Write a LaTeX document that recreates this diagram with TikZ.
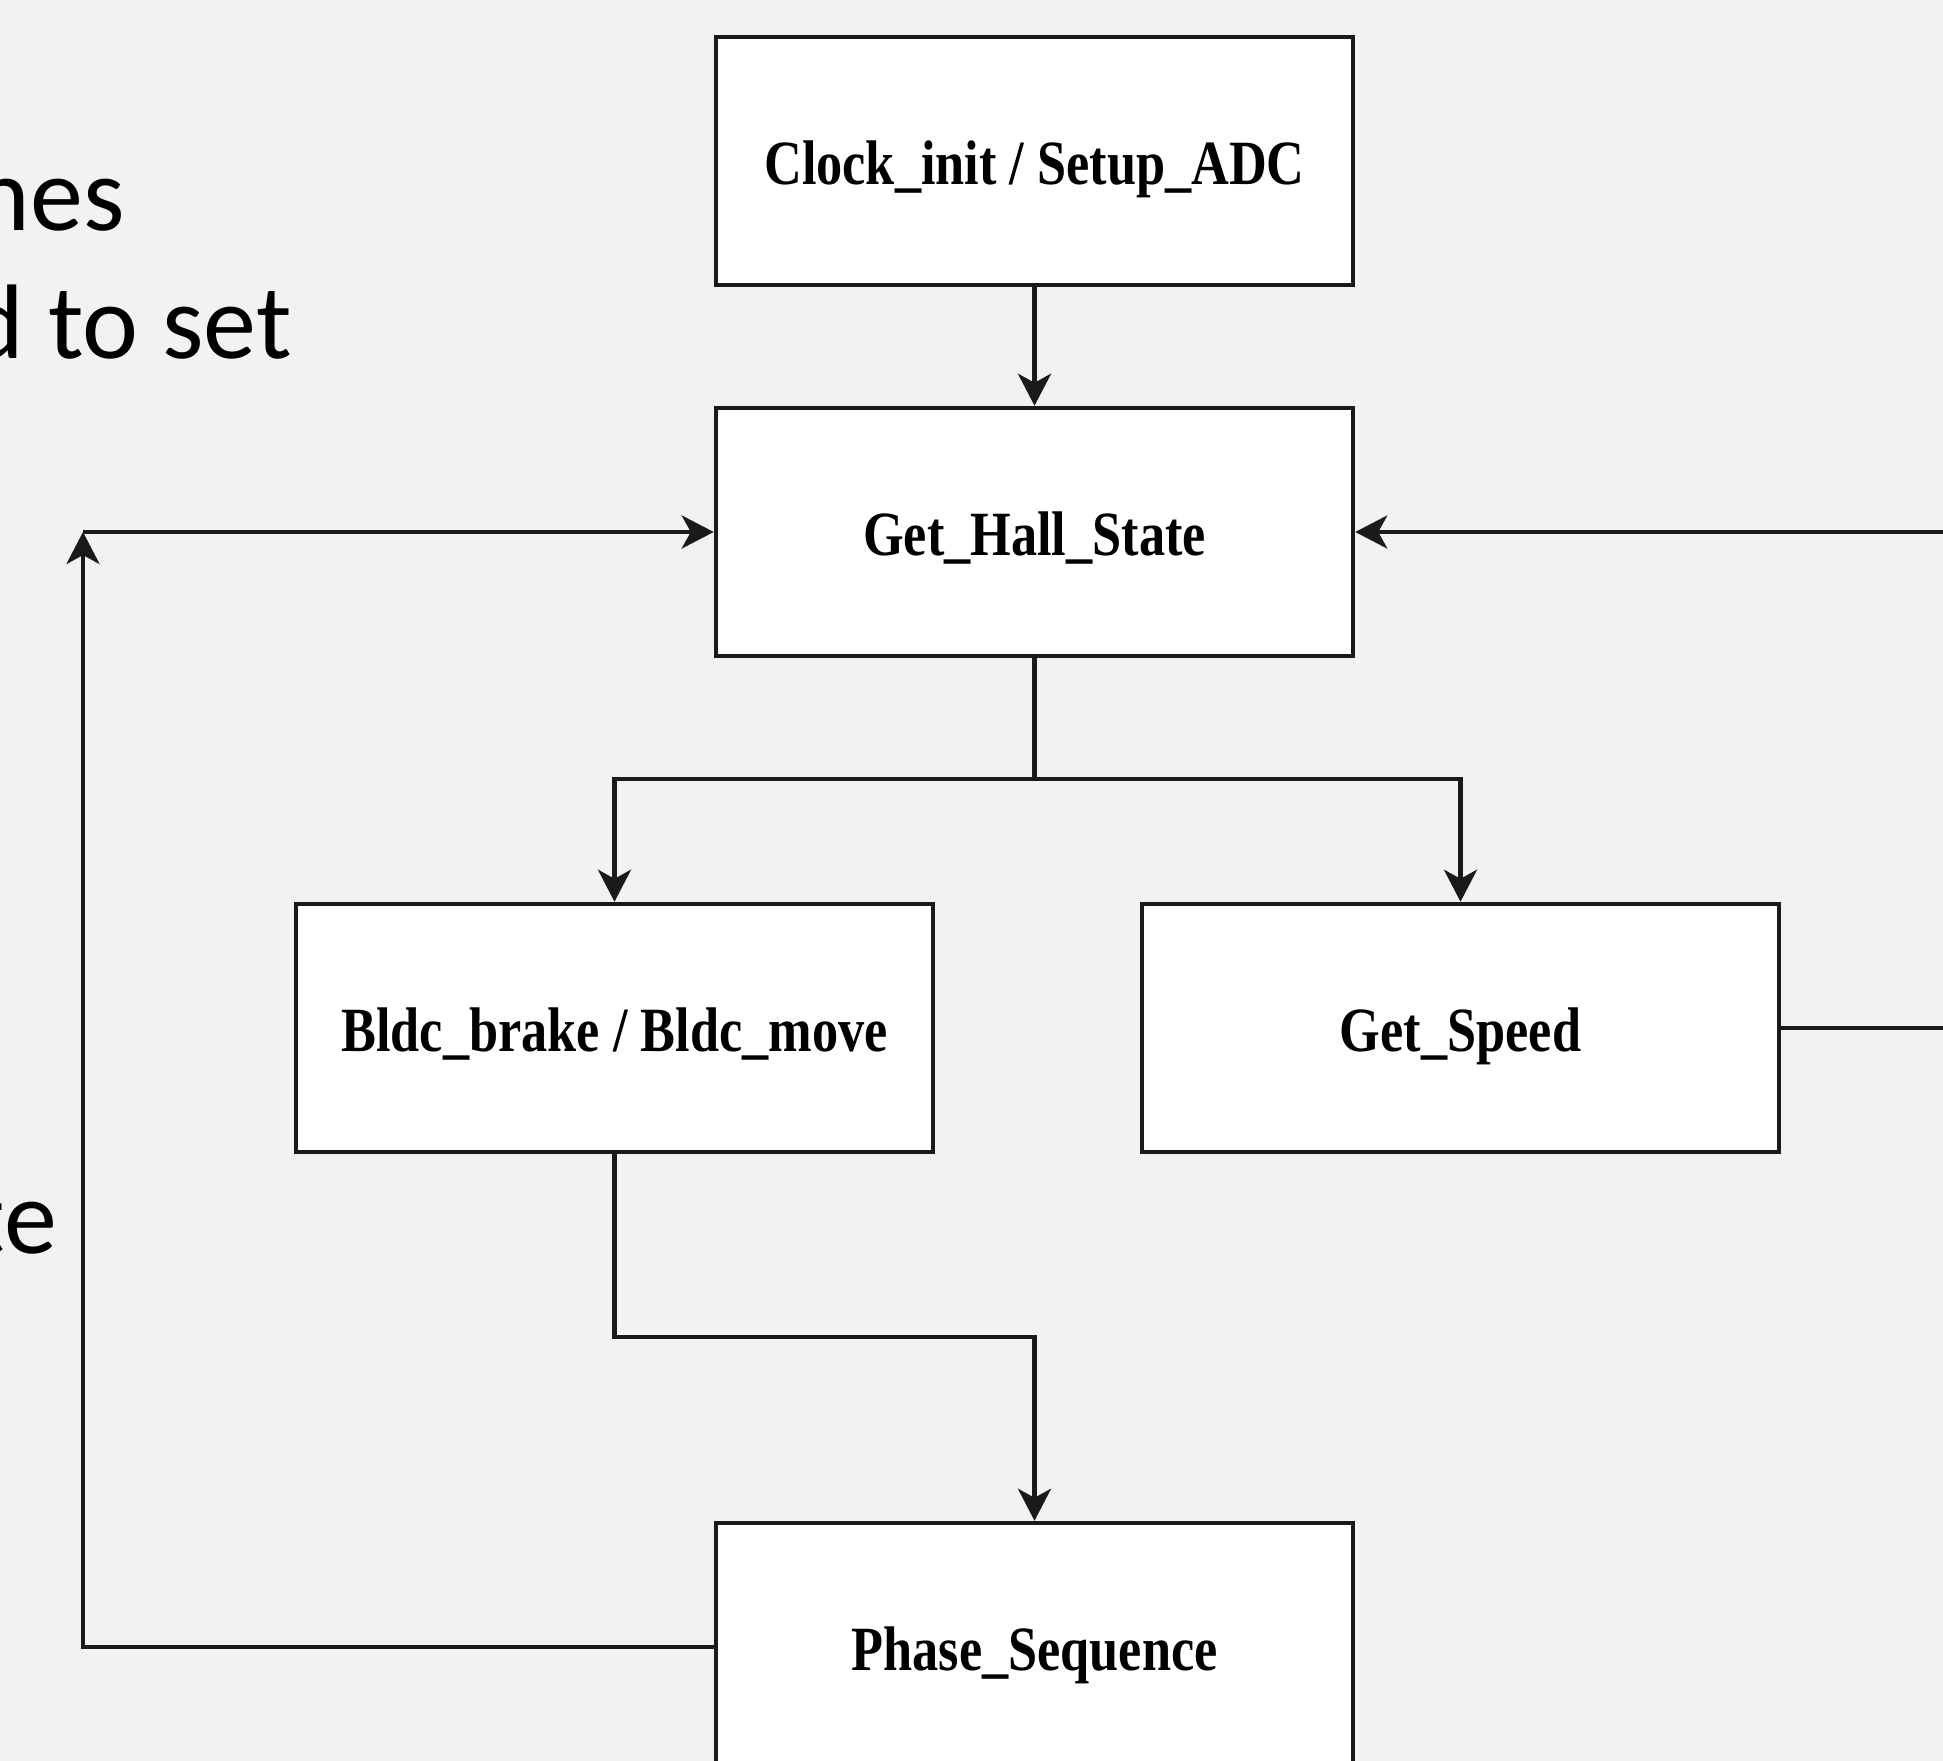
\documentclass[tikz,border=0pt]{standalone}
\usepackage{fontspec}
\setmainfont{Liberation Serif}
\newfontfamily\slidefont{Carlito}
\usetikzlibrary{arrows.meta}
\definecolor{bg}{HTML}{F2F2F2}
\definecolor{ink}{HTML}{1A1A1A}
\tikzset{
  blockbox/.style={draw=ink, fill=white, line width=4.5pt, rectangle,
    minimum width=637pt, minimum height=248pt, inner sep=0pt,
    text height=51pt, text depth=4pt,
    font=\fontsize{63pt}{70pt}\selectfont\bfseries},
  conn/.style={draw=ink, line width=4.2pt},
  arr/.style={conn, -{Stealth[length=32pt, width=33pt, inset=9pt]}},
  slidetxt/.style={font=\slidefont\fontsize{106pt}{120pt}\selectfont, inner sep=0pt, anchor=base east}
}
\newcommand{\sq}[1]{\scalebox{0.83}[1]{#1}}
\begin{document}
\begin{tikzpicture}[x=1pt, y=-1pt]
\useasboundingbox (0,0) rectangle (1943,1761);
\fill[bg] (0,0) rectangle (1943,1761);
\clip (0,0) rectangle (1943,1761);

\node[slidetxt] (t1) at (125,230) {nes};
\node[slidetxt] (t2) at (292,358) {d to set};
\node[slidetxt] (t3) at (57,1253) {te};

\node[blockbox] (clock) at (1034.5,161) {\sq{Clock\_init / Setup\_ADC}};
\node[blockbox] (hall) at (1034.5,532) {\sq{Get\_Hall\_State}};
\node[blockbox] (bldc) at (614.5,1028) {\sq{Bldc\_brake / Bldc\_move}};
\node[blockbox] (speed) at (1460.5,1028) {\sq{Get\_Speed}};
\node[blockbox] (phase) at (1034.5,1647) {\sq{Phase\_Sequence}};

\coordinate (br) at (1034.5,779);
\coordinate (bm) at (614.5,1337);
\coordinate (lc) at (83,532);
\coordinate (re) at (2000,1028);
\coordinate (rh) at (2000,532);

\draw[arr] (clock.south) -- (hall.north);
\draw[conn] (hall.south) -- (br);
\draw[arr] (br) -| (bldc.north);
\draw[arr] (br) -| (speed.north);
\draw[arr] (bldc.south) -- (bm) -| (phase.north);
\draw[arr] (phase.west) -| (lc);
\draw[arr] (lc) -- (hall.west);
\draw[arr] (speed.east) -- (re) -- (rh) -- (hall.east);
\end{tikzpicture}
\end{document}
